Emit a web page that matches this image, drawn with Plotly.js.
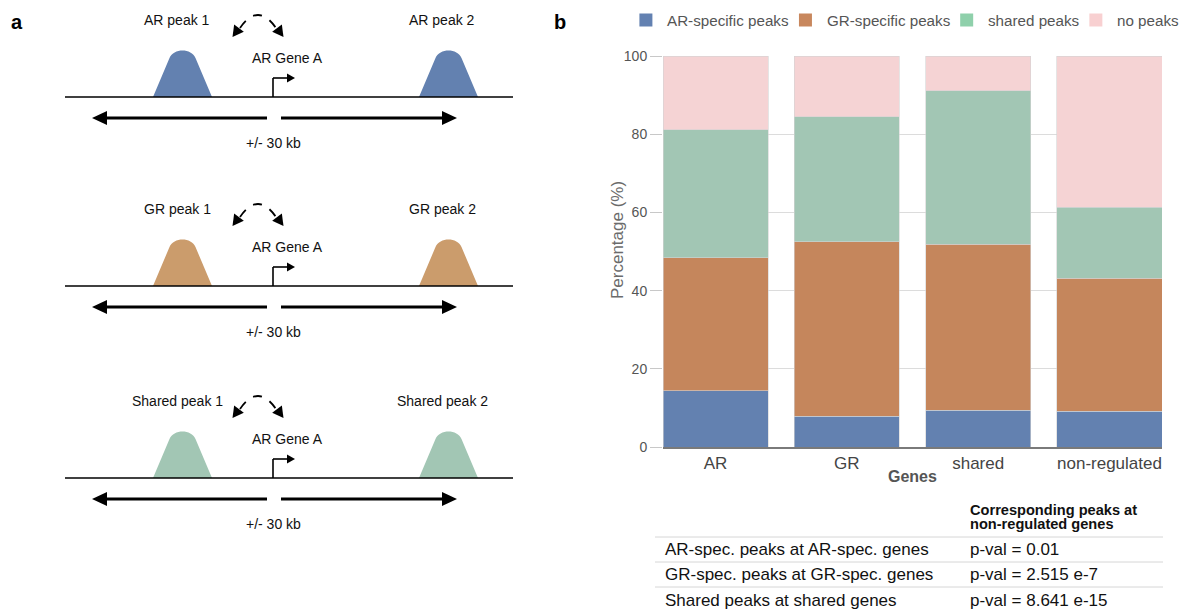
<!DOCTYPE html>
<html>
<head>
<meta charset="utf-8">
<script src="https://cdn.plot.ly/plotly-3.0.1.min.js"></script>
<style>html,body{margin:0;padding:0;background:#fff;}</style>
</head>
<body>
<div id="fig" style="width:1183px;height:612px;"></div>
<script>
// ---- panel b: peak composition per gene group (percent) ----
const geneGroups = ['AR', 'GR', 'shared', 'non-regulated'];
const arSpecificPeaks = [14.4, 7.9, 9.4, 9.2];
const grSpecificPeaks = [34.0, 44.6, 42.4, 33.9];
const sharedPeaks = [32.7, 32.0, 39.3, 18.2];
const noPeaks = [18.9, 15.5, 8.9, 38.7];
const seriesNames = ['AR-specific peaks', 'GR-specific peaks', 'shared peaks', 'no peaks'];
const yTickValues = [0, 20, 40, 60, 80, 100];

// ---- enrichment test summary under panel b ----
const tableHeaderLines = ['Corresponding peaks at', 'non-regulated genes'];
const comparisonLabels = ['AR-spec. peaks at AR-spec. genes',
                          'GR-spec. peaks at GR-spec. genes',
                          'Shared peaks at shared genes'];
const pValueLabels = ['p-val = 0.01', 'p-val = 2.515 e-7', 'p-val = 8.641 e-15'];

// ---- panel a: schematic labels ----
const schemePeakLabels = [['AR peak 1', 'AR peak 2'],
                          ['GR peak 1', 'GR peak 2'],
                          ['Shared peak 1', 'Shared peak 2']];
const schemeGeneLabel = 'AR Gene A';
const schemeWindowLabel = '+/- 30 kb';

// ---- styling ----
const FONT = 'Liberation Sans, Arial, Helvetica, sans-serif';
const barColors = ['#6381b0', '#c5865c', '#a2c6b4', '#f5d3d4'];
const legendSwatchColors = ['#6381b1', '#c8875d', '#8fd0ab', '#f8d0d1'];
const peakColors = ['#6381b0', '#cb9c6c', '#a2c6b4'];
const W = 1183, H = 612;
const px = v => v / W;            // helper for paper-fraction domains
const py = v => 1 - v / H;

const seriesValues = [arSpecificPeaks, grSpecificPeaks, sharedPeaks, noPeaks];
const traces = seriesValues.map((vals, i) => ({
  type: 'bar',
  name: seriesNames[i],
  x: geneGroups,
  y: vals,
  xaxis: 'x', yaxis: 'y',
  marker: { color: barColors[i], line: { color: '#d4d4d4', width: 0.6 } },
  showlegend: false,
  hoverinfo: 'x+y+name'
}));

// invisible full-page pixel frame for the schematic, legend and table
traces.push({
  type: 'scatter', x: [0], y: [0], xaxis: 'x2', yaxis: 'y2',
  mode: 'markers', marker: { opacity: 0 }, showlegend: false, hoverinfo: 'skip'
});

const shapes = [];
const annotations = [];

function txt(x, y, text, opts = {}) {
  annotations.push(Object.assign({
    x, y, xref: 'x2', yref: 'y2', text, showarrow: false,
    xanchor: 'center', yanchor: 'middle',
    font: { family: FONT, size: 14, color: '#111' }
  }, opts));
}
function line(x0, y0, x1, y1, color, width, dash) {
  shapes.push({ type: 'line', xref: 'x2', yref: 'y2', x0, y0, x1, y1,
    line: { color, width, dash: dash || 'solid' } });
}
function path(d, fill, lineSpec) {
  shapes.push({ type: 'path', xref: 'x2', yref: 'y2', path: d,
    fillcolor: fill || 'rgba(0,0,0,0)',
    line: lineSpec || { width: 0 } });
}
function arrowHead(tipX, tipY, dx, dy, len, hw) {
  const n = Math.hypot(dx, dy), ux = dx / n, uy = dy / n;
  const bx = tipX - ux * len, by = tipY - uy * len;
  const nx = -uy, ny = ux;
  path(`M${tipX},${tipY} L${bx + nx * hw},${by + ny * hw} L${bx - nx * hw},${by - ny * hw} Z`, '#000');
}
function peak(cx, base, color) {
  const hw = 29.5, h = 48;
  const top = base - h;
  const d = `M${cx - hw},${base} L${cx - 13},${top + 9} ` +
            `C${cx - 9},${top - 1} ${cx + 9},${top - 1} ${cx + 13},${top + 9} ` +
            `L${cx + hw},${base} Z`;
  path(d, color);
}

// ---- panel a: three schematic rows ----
const rowOffsets = [0, 189, 381];
rowOffsets.forEach((o, r) => {
  const base = 97 + o, tss = 273;
  txt(177, 20 + o, schemePeakLabels[r][0]);
  txt(442, 20 + o, schemePeakLabels[r][1]);
  txt(287, 58 + o, schemeGeneLabel);
  txt(tss, 143 + o, schemeWindowLabel);

  peak(182.5, base, peakColors[r]);
  peak(448.5, base, peakColors[r]);
  line(65, base, 513, base, '#000', 1.6);

  // transcription start site
  line(tss, base, tss, 78 + o, '#000', 1.6);
  line(tss, 78 + o, 288, 78 + o, '#000', 1.6);
  arrowHead(295, 78 + o, 1, 0, 8, 4.5);

  // dashed interaction arc
  path(`M240,${28 + o} Q258,${2 + o} 276,${28 + o}`, null,
       { color: '#000', width: 1.8, dash: 'dash' });
  arrowHead(232.5, 37 + o, -19, 26, 11, 6);
  arrowHead(283.5, 37 + o, 19, 26, 11, 6);

  // +/- 30 kb window
  line(267, 118 + o, 104, 118 + o, '#000', 3);
  arrowHead(92, 118 + o, -1, 0, 15, 7);
  line(281, 118 + o, 445, 118 + o, '#000', 3);
  arrowHead(457, 118 + o, 1, 0, 15, 7);
});

// panel letters
txt(17, 22, '<b>a</b>', { font: { family: FONT, size: 20, color: '#000' } });
txt(560, 22, '<b>b</b>', { font: { family: FONT, size: 20, color: '#000' } });

// ---- legend row for panel b, right-aligned, laid out from measured label widths ----
(function legendRow() {
  const size = 15.2, textOffset = 26, gap = 12, sw = 13, yc = 20, rightEdge = 1177;
  const ctx = document.createElement('canvas').getContext('2d');
  ctx.font = `${size}px "Liberation Sans", Arial, sans-serif`;
  const widths = seriesNames.map(n => ctx.measureText(n).width);
  const total = widths.reduce((a, w) => a + textOffset + w, 0) + gap * (seriesNames.length - 1);
  let x = rightEdge - total;
  seriesNames.forEach((name, i) => {
    shapes.push({ type: 'rect', xref: 'x2', yref: 'y2',
      x0: x, x1: x + sw, y0: yc - sw / 2, y1: yc + sw / 2,
      fillcolor: legendSwatchColors[i], line: { width: 0 } });
    const tx = x + textOffset;
    txt(tx, yc, name, { xanchor: 'left',
      font: { family: FONT, size: size, color: '#555' } });
    x = tx + widths[i] + gap;
  });
})();

// ---- panel b axis titles ----
txt(617, 240, 'Percentage (%)', { textangle: -90,
  font: { family: FONT, size: 17, color: '#6b6b6b' } });
txt(912, 476, '<b>Genes</b>', { font: { family: FONT, size: 16, color: '#555' } });

// ---- table below panel b ----
txt(968, 510, '<b>' + tableHeaderLines[0] + '</b>', { xanchor: 'left',
  font: { family: FONT, size: 14.6, color: '#111' } });
txt(968, 524, '<b>' + tableHeaderLines[1] + '</b>', { xanchor: 'left',
  font: { family: FONT, size: 14.6, color: '#111' } });
const rowYs = [549, 574, 600];
comparisonLabels.forEach((lab, i) => {
  txt(663, rowYs[i], lab, { xanchor: 'left', font: { family: FONT, size: 17, color: '#111' } });
  txt(968, rowYs[i], pValueLabels[i], { xanchor: 'left', font: { family: FONT, size: 17, color: '#111' } });
});
[537, 562, 587].forEach(y => line(655, y, 1163, y, '#d6d6d6', 1));

const layout = {
  width: W, height: H,
  margin: { l: 0, r: 0, t: 0, b: 0, pad: 0 },
  paper_bgcolor: '#fff', plot_bgcolor: 'rgba(0,0,0,0)',
  font: { family: FONT, color: '#555' },
  barmode: 'stack', bargap: 0.2,
  showlegend: false,
  xaxis: {
    domain: [px(663), px(1162)], anchor: 'y',
    type: 'category', range: [-0.4, 3.4],
    showline: true, linecolor: '#7a7a7a', linewidth: 1.5,
    ticks: '', showgrid: false, zeroline: false,
    tickfont: { family: FONT, size: 17, color: '#444' },
    automargin: false, fixedrange: true
  },
  yaxis: {
    domain: [py(447), py(56)], anchor: 'x',
    range: [0, 100], tickvals: yTickValues,
    showgrid: true, gridcolor: '#dcdcdc', gridwidth: 1,
    zeroline: false, showline: false,
    ticks: 'outside', ticklen: 12, tickcolor: '#c8c8c8', tickwidth: 1,
    tickfont: { family: FONT, size: 14, color: '#555' },
    automargin: false, fixedrange: true
  },
  xaxis2: { domain: [0, 1], anchor: 'y2', range: [0, W], visible: false, fixedrange: true },
  yaxis2: { domain: [0, 1], anchor: 'x2', range: [H, 0], visible: false, fixedrange: true },
  shapes, annotations
};

Plotly.newPlot('fig', traces, layout, { displayModeBar: false, staticPlot: true });
</script>
</body>
</html>
